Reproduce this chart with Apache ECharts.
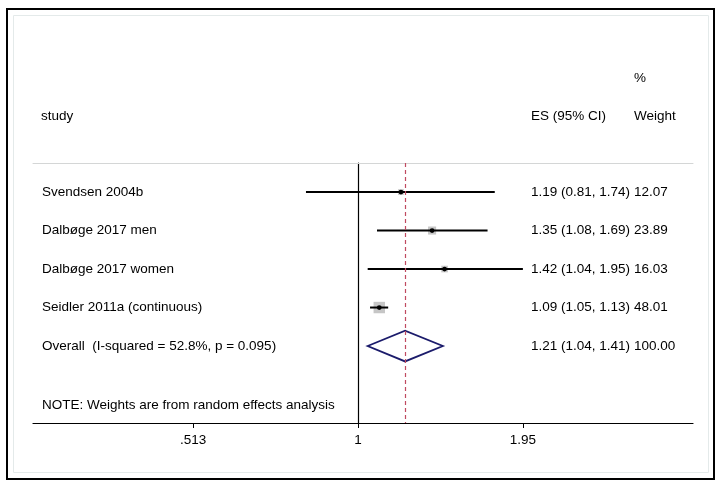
<!DOCTYPE html>
<html>
<head>
<meta charset="utf-8">
<script src="https://cdn.jsdelivr.net/npm/echarts@6/dist/echarts.min.js"></script>
<style>
  html, body { margin: 0; padding: 0; background: #fff; }
  #chart { width: 723px; height: 489px; }
</style>
</head>
<body>
<div id="chart"></div>
<script>
// study rows
const studies = ['Svendsen 2004b', 'Dalbøge 2017 men', 'Dalbøge 2017 women', 'Seidler 2011a (continuous)'];
const es = [1.19, 1.35, 1.42, 1.09];
const ciLow = [0.81, 1.08, 1.04, 1.05];
const ciHigh = [1.74, 1.69, 1.95, 1.13];
const weights = [12.07, 23.89, 16.03, 48.01];

// pooled estimate
const overallLabel = 'Overall  (I-squared = 52.8%, p = 0.095)';
const overallES = 1.21;
const overallLow = 1.04;
const overallHigh = 1.41;
const overallWeight = 100.00;

const tickLabels = [0.513, 1, 1.95];
const note = 'NOTE: Weights are from random effects analysis';

const FONT = "'Liberation Sans', Arial, sans-serif";
const FS = 13.5;
const ln = Math.log;

const esText = (e, l, h) => `${e.toFixed(2)} (${l.toFixed(2)}, ${h.toFixed(2)})`;

const studyData = studies.map((s, i) => [ln(es[i]), ln(ciLow[i]), ln(ciHigh[i]), i, weights[i]]);
const overallRow = studies.length;

const textRows = studies.map((s, i) => ({
  value: [0, i], name: s, es: esText(es[i], ciLow[i], ciHigh[i]), w: weights[i].toFixed(2)
}));
textRows.push({
  value: [0, overallRow], name: overallLabel,
  es: esText(overallES, overallLow, overallHigh), w: overallWeight.toFixed(2)
});

const chart = echarts.init(document.getElementById('chart'));

function renderStudy(params, api) {
  const y = api.coord([0, api.value(3)])[1];
  const x = api.coord([api.value(0), 0])[0];
  const lo = api.coord([api.value(1), 0])[0];
  const hi = api.coord([api.value(2), 0])[0];
  const side = 1.65 * Math.sqrt(api.value(4));
  return {
    type: 'group',
    children: [
      { type: 'rect', shape: { x: x - side / 2, y: y - side / 2, width: side, height: side },
        style: { fill: '#c6c6c6' } },
      { type: 'line', shape: { x1: lo, y1: y, x2: hi, y2: y },
        style: { stroke: '#000', lineWidth: 2 } },
      { type: 'circle', shape: { cx: x, cy: y, r: 2.4 }, style: { fill: '#000' } }
    ]
  };
}

function renderDiamond(params, api) {
  const row = api.value(3);
  const y = api.coord([0, row])[1];
  const top = api.coord([0, row - 0.4])[1];
  const bot = api.coord([0, row + 0.4])[1];
  const x = api.coord([api.value(0), 0])[0];
  const lo = api.coord([api.value(1), 0])[0];
  const hi = api.coord([api.value(2), 0])[0];
  return {
    type: 'polygon',
    shape: { points: [[lo, y], [x, top], [hi, y], [x, bot]] },
    style: { fill: 'none', stroke: '#1b1b6b', lineWidth: 1.8 }
  };
}

function renderText(params, api) {
  const d = textRows[params.dataIndex];
  const y = api.coord([0, api.value(1)])[1];
  const st = (x, t) => ({
    type: 'text', x: x, y: y,
    style: { text: t, font: `${FS}px ${FONT}`, fill: '#000', textVerticalAlign: 'middle', textAlign: 'left' }
  });
  return { type: 'group', children: [st(42, d.name), st(531, d.es), st(634, d.w)] };
}

const headStyle = t => ({ text: t, font: `${FS}px ${FONT}`, fill: '#000', textVerticalAlign: 'middle' });

chart.setOption({
  animation: false,
  textStyle: { fontFamily: FONT },
  grid: { left: 33, right: 30, top: 163, bottom: 66 },
  xAxis: [{
    type: 'value',
    min: -1.3163,
    max: 1.3568,
    axisLine: { onZero: false, lineStyle: { color: '#000', width: 1.2 } },
    axisTick: { show: true, length: 5, lineStyle: { color: '#000' }, customValues: tickLabels.map(ln) },
    axisLabel: {
      customValues: tickLabels.map(ln),
      fontSize: FS, color: '#000', margin: 10,
      formatter: v => String(+Math.exp(v).toFixed(3)).replace(/^0\./, '.')
    },
    splitLine: { show: false }
  }, {
    type: 'value',
    position: 'top',
    min: -1.3163,
    max: 1.3568,
    axisLine: { onZero: false, lineStyle: { color: '#d4d6d6', width: 1 } },
    axisTick: { show: false },
    axisLabel: { show: false },
    splitLine: { show: false }
  }],
  yAxis: {
    type: 'value',
    inverse: true,
    min: -0.755,
    max: 6.0,
    axisLine: { show: true, onZero: true, onZeroAxisIndex: 0, lineStyle: { color: '#000', width: 1.2 } },
    axisTick: { show: false },
    axisLabel: { show: false },
    splitLine: { show: false }
  },
  graphic: [
    { type: 'rect', shape: { x: 7, y: 9, width: 707, height: 470 },
      style: { fill: 'none', stroke: '#000', lineWidth: 2 }, silent: true },
    { type: 'rect', shape: { x: 13.5, y: 15.5, width: 695, height: 457 },
      style: { fill: 'none', stroke: '#e4eaea', lineWidth: 1 }, silent: true },
    { type: 'text', x: 41, y: 116, style: headStyle('study') },
    { type: 'text', x: 531, y: 116, style: headStyle('ES (95% CI)') },
    { type: 'text', x: 634, y: 116, style: headStyle('Weight') },
    { type: 'text', x: 634, y: 78, style: headStyle('%') },
    { type: 'text', x: 42, y: 405, style: headStyle(note) }
  ],
  series: [
    {
      type: 'custom',
      renderItem: renderStudy,
      data: studyData,
      encode: { x: [0, 1, 2], y: 3 },
      silent: true
    },
    {
      type: 'custom',
      renderItem: renderDiamond,
      data: [[ln(overallES), ln(overallLow), ln(overallHigh), overallRow]],
      encode: { x: [0, 1, 2], y: 3 },
      silent: true,
      markLine: {
        silent: true,
        symbol: 'none',
        label: { show: false },
        lineStyle: { color: '#c04a60', type: [4, 3], width: 1.2, opacity: 1 },
        data: [{ xAxis: ln(overallES) }]
      }
    },
    {
      type: 'custom',
      renderItem: renderText,
      data: textRows,
      encode: { x: 0, y: 1 },
      silent: true
    }
  ]
});
</script>
</body>
</html>
